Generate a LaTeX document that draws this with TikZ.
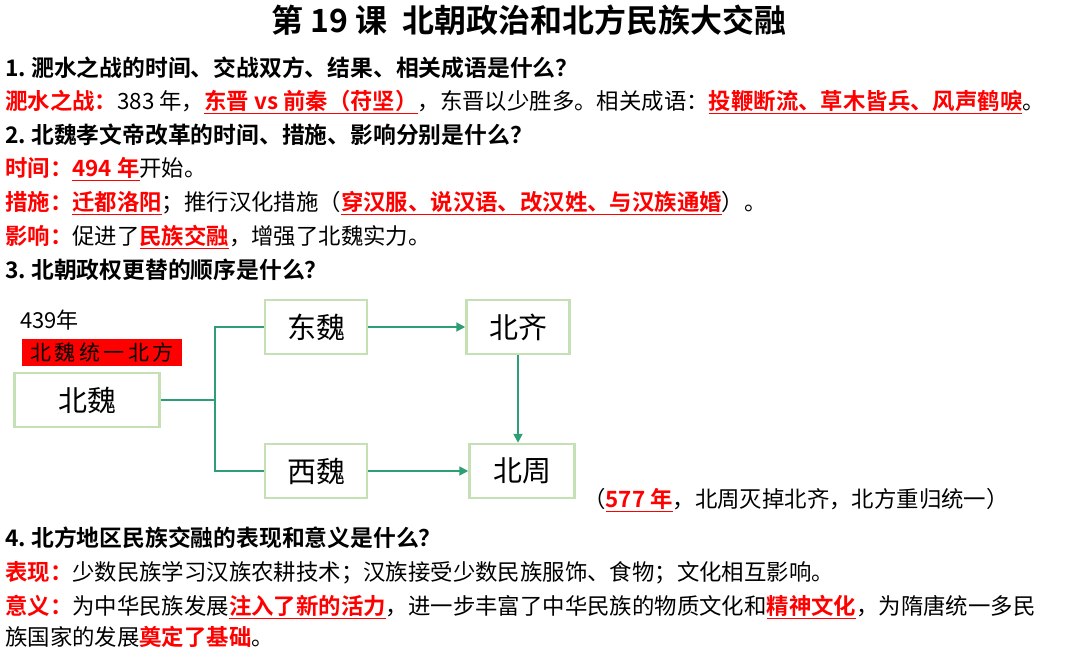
\documentclass[tikz,border=0pt]{standalone}
\usepackage{fontspec}
\setmainfont{Noto Sans CJK SC}[BoldFont={Noto Sans CJK SC Bold}]
\usetikzlibrary{arrows.meta,positioning}
\definecolor{boxline}{HTML}{C5E0B4}
\definecolor{linkgreen}{HTML}{2E9E74}
\newcommand{\hl}[1]{{\color{red}\bfseries\underline{#1}}}
\newcommand{\tag}[1]{{\color{red}\bfseries #1}}
\tikzset{
  txt/.style={anchor=west, inner sep=0pt, font=\fontsize{22.4}{24}\selectfont},
  ques/.style={txt, font=\fontsize{22.8}{24}\selectfont\bfseries},
  statebox/.style={draw=boxline, line width=2.5pt, fill=white, minimum height=54pt, font=\fontsize{29}{31}\selectfont},
  link/.style={linkgreen, line width=1.8pt},
  flow/.style={link, -{Triangle[length=9pt,width=9pt]}},
}
\begin{document}
\begin{tikzpicture}[x=1pt, y=-1pt]
    \useasboundingbox (0,0) rectangle (1080,648);
    % Title
    \node[font=\fontsize{32}{34}\selectfont\bfseries] (title) at (529,20) {第 19 课\ \ 北朝政治和北方民族大交融};
    % Question 1
    \node[ques] (q1) at (5,68) {1.\ 淝水之战的时间、交战双方、结果、相关成语是什么？};
    \node[txt] (a1) at (5,102) {\tag{淝水之战：}383 年，\hl{东晋 vs 前秦（苻坚）}，东晋以少胜多。相关成语：\hl{投鞭断流、草木皆兵、风声鹤唳}。};
    % Question 2
    \node[ques] (q2) at (5,135) {2.\ 北魏孝文帝改革的时间、措施、影响分别是什么？};
    \node[txt] (a2a) at (5,169) {\tag{时间：}\hl{494 年}开始。};
    \node[txt] (a2b) at (5,203) {\tag{措施：}\hl{迁都洛阳}；推行汉化措施（\hl{穿汉服、说汉语、改汉姓、与汉族通婚}）。};
    \node[txt] (a2c) at (5,237) {\tag{影响：}促进了\hl{民族交融}，增强了北魏实力。};
    % Question 3
    \node[ques] (q3) at (5,270) {3.\ 北朝政权更替的顺序是什么？};
    % Diagram
    \node[statebox, minimum width=145pt] (beiwei) at (87,400) {北魏};
    \node[statebox, minimum width=102pt] (dongwei) at (316,327) {东魏};
    \node[statebox, minimum width=102pt] (xiwei) at (316,471) {西魏};
    \node[statebox, minimum width=103pt] (beiqi) at (518,327) {北齐};
    \node[statebox, minimum width=105pt] (beizhou) at (522,471) {北周};
    \node[anchor=west, inner sep=0pt, font=\fontsize{22}{24}\selectfont] (year) at (20,320) {439年};
    \node[anchor=west, fill=red, minimum width=160pt, minimum height=27pt, inner sep=2pt, font=\fontsize{21}{23}\selectfont] (unify) at (22,352) {北\,魏\,统\,一\,北\,方};
    \coordinate (fork) at (215,400);
    \draw[link] (beiwei) -- (fork);
    \draw[link] (dongwei.west) -| (fork) |- (xiwei.west);
    \draw[flow] (dongwei) -- (beiqi);
    \draw[flow] (xiwei) -- (beizhou);
    \draw[flow] (beiqi.south) -- (beiqi.south |- beizhou.north);
    \node[txt] (note) at (583,500) {（\hl{577 年}，北周灭掉北齐，北方重归统一）};
    % Question 4
    \node[ques] (q4) at (5,538) {4.\ 北方地区民族交融的表现和意义是什么？};
    \node[txt] (a4a) at (5,573) {\tag{表现：}少数民族学习汉族农耕技术；汉族接受少数民族服饰、食物；文化相互影响。};
    \node[txt] (a4b) at (5,607) {\tag{意义：}为中华民族发展\hl{注入了新的活力}，进一步丰富了中华民族的物质文化和\hl{精神文化}，为隋唐统一多民};
    \node[txt] (a4c) at (5,638) {族国家的发展\hl{奠定了基础}。};
\end{tikzpicture}
\end{document}
